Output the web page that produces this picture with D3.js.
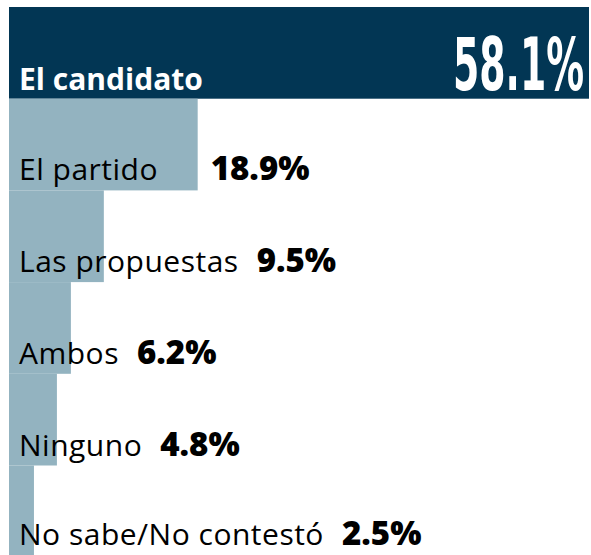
<!DOCTYPE html>
<html>
<head>
<meta charset="utf-8">
<script src="https://cdn.jsdelivr.net/npm/d3@7"></script>
<style>
  html, body { margin: 0; padding: 0; background: #fff; }
  svg { display: block; }
</style>
</head>
<body>
<svg id="chart" width="591" height="555"></svg>
<script>
const categories = ["El candidato", "El partido", "Las propuestas", "Ambos", "Ninguno", "No sabe/No contestó"];
const values = [58.1, 18.9, 9.5, 6.2, 4.8, 2.5];
const valueLabels = ["58.1%", "18.9%", "9.5%", "6.2%", "4.8%", "2.5%"];

const W = 591, H = 555;
const svg = d3.select("#chart");

const x = d3.scaleLinear().domain([0, d3.max(values)]).range([9, 589]);
const y = d3.scaleBand().domain(categories).range([7, 7 + 91.7 * categories.length]).padding(0);

const data = categories.map((c, i) => ({ cat: c, val: values[i], lab: valueLabels[i], i }));

svg.selectAll("rect.bar").data(data).join("rect")
  .attr("class", "bar")
  .attr("x", x(0))
  .attr("y", d => y(d.cat))
  .attr("width", d => x(d.val) - x(0))
  .attr("height", y.bandwidth())
  .attr("fill", d => d.i === 0 ? "#023654" : "#93b3c0");

const font = "'Open Sans', 'Noto Sans', sans-serif";

function fitWidth(sel, target) {
  const w = sel.node().getComputedTextLength();
  return target / w;
}

data.forEach(d => {
  const base = Math.min(y(d.cat) + y.bandwidth() - (d.i === 0 ? 9 : 10), H - 10.5);
  if (d.i === 0) {
    svg.append("text")
      .attr("x", 19).attr("y", base)
      .attr("font-family", font).attr("font-weight", 700).attr("font-size", 30)
      .attr("fill", "#fff").text(d.cat);
    const big = svg.append("text")
      .attr("x", 0).attr("y", 0).attr("text-anchor", "end")
      .attr("font-family", "'Liberation Sans Narrow', 'DejaVu Sans Condensed', sans-serif")
      .attr("font-weight", 700).attr("font-size", 73)
      .attr("fill", "#fff").text(d.lab);
    const sx = Math.min(1, fitWidth(big, 131));
    big.attr("transform", `translate(584,${base}) scale(${sx},1)`);
  } else {
    const t = svg.append("text")
      .attr("x", 19).attr("y", base)
      .attr("font-family", font).attr("font-weight", 400).attr("font-size", 30)
      .attr("letter-spacing", 0.5)
      .attr("fill", "#000").text(d.cat);
    const end = 19 + t.node().getComputedTextLength();
    const vx = Math.max(end + 18, x(d.val) + 13);
    svg.append("text")
      .attr("x", vx).attr("y", base)
      .attr("font-family", font).attr("font-weight", 800).attr("font-size", 33)
      .attr("fill", "#000").text(d.lab);
  }
});
</script>
</body>
</html>
